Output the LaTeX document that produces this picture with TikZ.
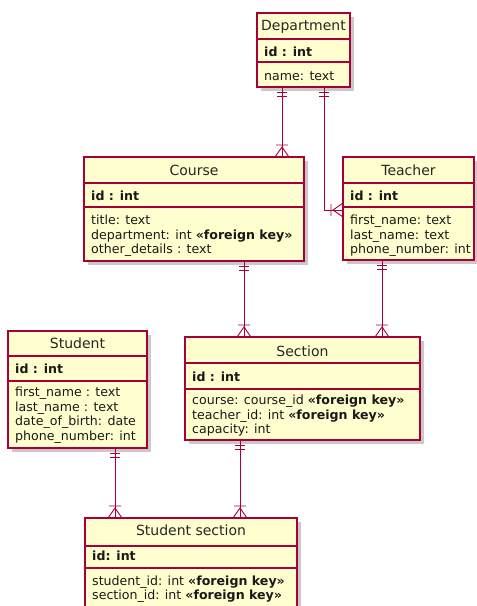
\documentclass[tikz,border=0pt]{standalone}
\usepackage{fontspec}
\setmainfont{DejaVu Sans}
\usetikzlibrary{shadows,calc}
\definecolor{entfill}{HTML}{FEFECE}
\definecolor{entline}{HTML}{A80036}
\begin{document}
\begin{tikzpicture}[x=1pt,y=-1pt,
  ent/.style={draw=entline, line width=1.1pt, fill=entfill, rectangle, inner sep=0pt, outer sep=0pt, anchor=north west,
    drop shadow={shadow xshift=4pt, shadow yshift=-4pt, opacity=0.3, fill=black!70}},
  sepline/.style={draw=entline, line width=1.1pt},
  ttl/.style={font=\fontsize{14}{16}\selectfont, anchor=base, inner sep=0pt, text=black!85},
  attr/.style={font=\fontsize{12.6}{14.5}\selectfont, anchor=base west, inner sep=0pt, text=black!90},
  conn/.style={draw=entline, line width=0.9pt},
  pics/mandone/.style={code={\draw[conn] (-5,5.5) -- (5,5.5) (-5,9) -- (5,9);}},
  pics/crowmany/.style={code={\draw[conn] (-6,-12) -- (6,-12) (-7,0) -- (0,-10) -- (7,0);}}
]
\useasboundingbox (0,0) rectangle (477,606);

% ---- boxes ----
\node[ent, minimum width=93pt, minimum height=74pt] (dept) at (257,13) {};
\node[ent, minimum width=220pt, minimum height=104pt] (course) at (84,157) {};
\node[ent, minimum width=131pt, minimum height=103pt] (teacher) at (343,157) {};
\node[ent, minimum width=139pt, minimum height=117pt] (student) at (8,331) {};
\node[ent, minimum width=235pt, minimum height=103pt] (section) at (185,337) {};
\node[ent, minimum width=212pt, minimum height=100pt] (ss) at (85,518) {};

% ---- separators ----
\coordinate (d1) at (0,39);  \coordinate (d2) at (0,62);
\draw[sepline] (dept.west |- d1) -- (dept.east |- d1) (dept.west |- d2) -- (dept.east |- d2);
\coordinate (c1) at (0,183); \coordinate (c2) at (0,207);
\draw[sepline] (course.west |- c1) -- (course.east |- c1) (course.west |- c2) -- (course.east |- c2);
\draw[sepline] (teacher.west |- c1) -- (teacher.east |- c1) (teacher.west |- c2) -- (teacher.east |- c2);
\coordinate (s1) at (0,356); \coordinate (s2) at (0,381);
\draw[sepline] (student.west |- s1) -- (student.east |- s1) (student.west |- s2) -- (student.east |- s2);
\coordinate (e1) at (0,363); \coordinate (e2) at (0,389);
\draw[sepline] (section.west |- e1) -- (section.east |- e1) (section.west |- e2) -- (section.east |- e2);
\coordinate (t1) at (0,546); \coordinate (t2) at (0,568);
\draw[sepline] (ss.west |- t1) -- (ss.east |- t1) (ss.west |- t2) -- (ss.east |- t2);

% ---- texts ----
\node[ttl] (deptT) at (303.5,30.5) {Department};
\node[attr] (deptI) at (264,56) {\textbf{id : int}};
\node[attr] (deptA) at (264,80) {name: text};

\node[ttl] (courseT) at (194,175.7) {Course};
\node[attr] (courseI) at (91,200) {\textbf{id : int}};
\node[attr] (courseA1) at (91,224.5) {title: text};
\node[attr] (courseA2) at (91,239) {department: int \textbf{«foreign key»}};
\node[attr] (courseA3) at (91,253.5) {other\_details : text};

\node[ttl] (teacherT) at (408.5,175.5) {Teacher};
\node[attr] (teacherI) at (350,200) {\textbf{id : int}};
\node[attr] (teacherA1) at (350,224.5) {first\_name: text};
\node[attr] (teacherA2) at (350,239) {last\_name: text};
\node[attr] (teacherA3) at (350,253.5) {phone\_number: int};

\node[ttl] (studentT) at (77.5,348.5) {Student};
\node[attr] (studentI) at (15,373.5) {\textbf{id : int}};
\node[attr] (studentA1) at (15,396.5) {first\_name : text};
\node[attr] (studentA2) at (15,411) {last\_name : text};
\node[attr] (studentA3) at (15,425.5) {date\_of\_birth: date};
\node[attr] (studentA4) at (15,440) {phone\_number: int};

\node[ttl] (sectionT) at (302.5,356) {Section};
\node[attr] (sectionI) at (192,381) {\textbf{id : int}};
\node[attr] (sectionA1) at (192,404.5) {course: course\_id \textbf{«foreign key»}};
\node[attr] (sectionA2) at (192,419) {teacher\_id: int \textbf{«foreign key»}};
\node[attr] (sectionA3) at (192,433.5) {capacity: int};

\node[ttl] (ssT) at (191,535.7) {Student section};
\node[attr] (ssI) at (92,560.7) {\textbf{id: int}};
\node[attr] (ssA1) at (92,585.5) {student\_id: int \textbf{«foreign key»}};
\node[attr] (ssA2) at (92,599.5) {section\_id: int \textbf{«foreign key»}};

% ---- connectors ----
\coordinate (xA) at (282,0);
\coordinate (xB) at (324,0);
\coordinate (yT) at (0,210);
\coordinate (xC) at (244,0);
\coordinate (xD) at (382,0);
\coordinate (xE) at (115,0);
\coordinate (xF) at (240,0);

\draw[conn] (dept.south -| xA) -- (course.north -| xA);
\pic at (dept.south -| xA) {mandone};
\pic at (course.north -| xA) {crowmany};

\draw[conn] (dept.south -| xB) |- (teacher.west |- yT);
\pic at (dept.south -| xB) {mandone};
\draw[conn] ($(teacher.west |- yT)+(-12,-6)$) -- ++(0,12)
            ($(teacher.west |- yT)+(0,-7)$) -- ++(-10,7) -- ++(10,7);

\draw[conn] (course.south -| xC) -- (section.north -| xC);
\pic at (course.south -| xC) {mandone};
\pic at (section.north -| xC) {crowmany};

\draw[conn] (teacher.south -| xD) -- (section.north -| xD);
\pic at (teacher.south -| xD) {mandone};
\pic at (section.north -| xD) {crowmany};

\draw[conn] (student.south -| xE) -- (ss.north -| xE);
\pic at (student.south -| xE) {mandone};
\pic at (ss.north -| xE) {crowmany};

\draw[conn] (section.south -| xF) -- (ss.north -| xF);
\pic at (section.south -| xF) {mandone};
\pic at (ss.north -| xF) {crowmany};
\end{tikzpicture}
\end{document}
